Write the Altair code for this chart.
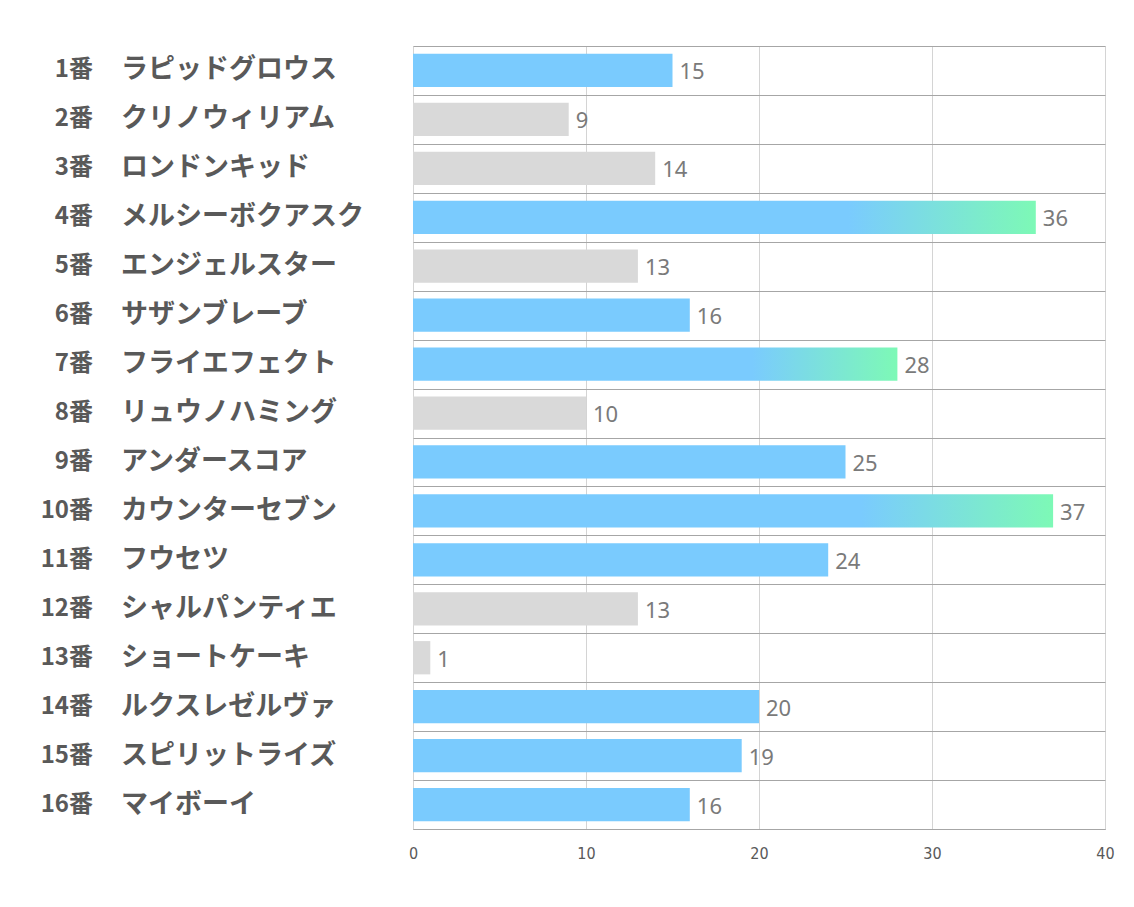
import altair as alt
import pandas as pd

nums = list(range(1, 17))
num_labels = [f"{n}番" for n in nums]
names = ["ラピッドグロウス", "クリノウィリアム", "ロンドンキッド", "メルシーボクアスク",
         "エンジェルスター", "サザンブレーブ", "フライエフェクト", "リュウノハミング",
         "アンダースコア", "カウンターセブン", "フウセツ", "シャルパンティエ",
         "ショートケーキ", "ルクスレゼルヴァ", "スピリットライズ", "マイボーイ"]
values = [15, 9, 14, 36, 13, 16, 28, 10, 25, 37, 24, 13, 1, 20, 19, 16]
groups = ["blue", "gray", "gray", "grad", "gray", "blue", "grad", "gray",
          "blue", "grad", "blue", "gray", "gray", "blue", "blue", "blue"]
x_ticks = [0, 10, 20, 30, 40]

df = pd.DataFrame({"no": nums, "numlab": num_labels, "name": names,
                   "value": values, "group": groups})

BLUE = "#7ACBFE"
GRAY = "#D9D9D9"
GREEN = "#7DF9B6"
JP = "Noto Sans CJK JP"

y_enc = alt.Y("no:O", sort="ascending",
              scale=alt.Scale(paddingInner=0, paddingOuter=0),
              axis=alt.Axis(title=None, labels=False, ticks=False, domain=False,
                            grid=True, gridColor="#A6A6A6", gridWidth=1,
                            tickBand="extent"))
x_enc = alt.X("value:Q",
              scale=alt.Scale(domain=[0, 40], nice=False),
              axis=alt.Axis(title=None, values=x_ticks, ticks=False,
                            grid=True, gridColor="#D4D4D4", gridWidth=1,
                            domain=True, domainColor="#A6A6A6",
                            labelFont="DejaVu Sans Condensed",
                            labelFontSize=16, labelColor="#595959",
                            labelFlush=False, labelPadding=16))

base = alt.Chart(df)

gray_bars = base.transform_filter(alt.datum.group == "gray").mark_bar(
    color=GRAY, height={"band": 0.68}).encode(x=x_enc, y=y_enc)
blue_bars = base.transform_filter(alt.datum.group == "blue").mark_bar(
    color=BLUE, height={"band": 0.68}).encode(x=x_enc, y=y_enc)
grad = alt.Gradient(gradient="linear", x1=0, y1=0, x2=1, y2=0,
                    stops=[alt.GradientStop(offset=0, color=BLUE),
                           alt.GradientStop(offset=0.7, color=BLUE),
                           alt.GradientStop(offset=1, color=GREEN)])
grad_bars = base.transform_filter(alt.datum.group == "grad").mark_bar(
    color=grad, height={"band": 0.68}).encode(x=x_enc, y=y_enc)

value_text = base.mark_text(align="left", baseline="middle", dx=7, dy=2,
                            font="Noto Sans", fontSize=22, color="#7A7A7A").encode(
    x=x_enc, y=y_enc, text="value:Q")

num_text = base.mark_text(align="right", baseline="middle", font=JP,
                          fontSize=24, fontWeight="bold", color="#595959").encode(
    x=alt.value(-320), y=y_enc, text="numlab:N")
name_text = base.mark_text(align="left", baseline="middle", font=JP,
                           fontSize=27, fontWeight="bold", color="#595959").encode(
    x=alt.value(-292), y=y_enc, text="name:N")

chart = alt.layer(gray_bars, blue_bars, grad_bars, value_text, num_text, name_text).properties(
    width=692, height=783,
    autosize=alt.AutoSizeParams(type="none"),
    padding={"left": 405, "top": 38, "right": 20, "bottom": 60},
).configure_view(stroke=None).configure(background="white")

chart.save("out.html", embed_options={"renderer": "svg", "actions": False})
